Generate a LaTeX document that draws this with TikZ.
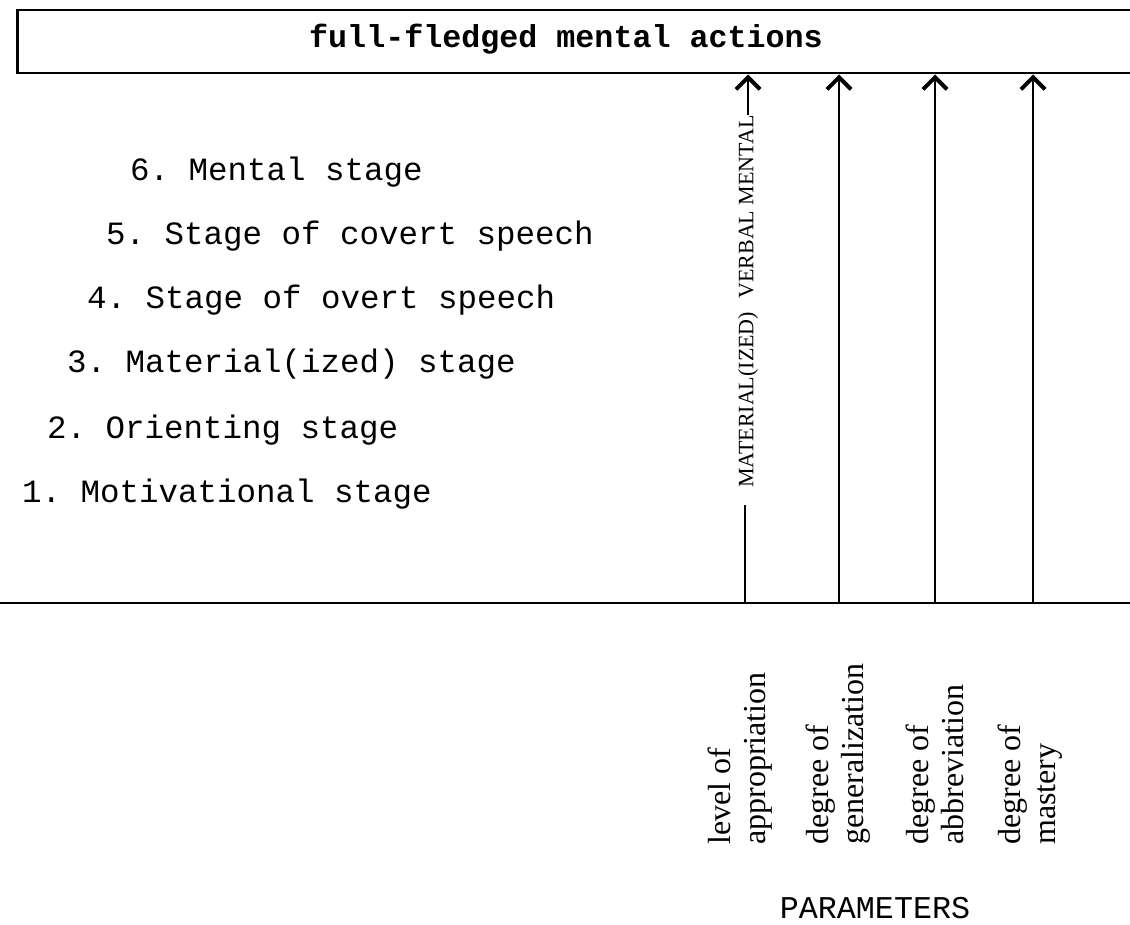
\documentclass[tikz,border=0pt]{standalone}
\usepackage{fontspec}
\setmainfont{Liberation Serif}
\setmonofont{Liberation Mono}
\usetikzlibrary{arrows.meta}
\begin{document}
\begin{tikzpicture}[x=1pt,y=-1pt,
  rule/.style={line width=2.8pt},
  shaft/.style={line width=2.6pt},
  arr/.style={line width=2.6pt,-{Straight Barb[length=12pt,width=24pt,line width=4pt]}},
  stage/.style={font=\fontsize{32.5}{36}\selectfont\ttfamily, anchor=base west, inner sep=0pt},
  param/.style={font=\fontsize{32}{35}\selectfont, rotate=90, anchor=west, align=left, inner sep=0pt},
]
\useasboundingbox (0,0) rectangle (1130,925);
% top box
\node[draw, line width=2.5pt, anchor=north west, minimum width=1160pt, minimum height=63pt, inner sep=0pt] (box) at (16,9) {};
\node[font=\fontsize{31.7}{36}\selectfont\ttfamily\bfseries, anchor=base, inner sep=0pt] (title) at (566,48) {full-fledged mental actions};
% stages
\node[stage] (s6) at (130,181) {6. Mental stage};
\node[stage] (s5) at (106,245) {5. Stage of covert speech};
\node[stage] (s4) at (87,309) {4. Stage of overt speech};
\node[stage] (s3) at (67,373) {3. Material(ized) stage};
\node[stage] (s2) at (47,438) {2. Orienting stage};
\node[stage] (s1) at (22,502) {1. Motivational stage};
% base line
\coordinate (hl) at (0,603);
\coordinate (hr) at (1130,603);
\draw[rule] (hl) -- (hr);
% columns
\coordinate (b1) at (745,603);
\coordinate (m0) at (745,505);
\coordinate (b2) at (839,603);
\coordinate (b3) at (935,603);
\coordinate (b4) at (1033,603);
\draw[shaft] (b1) -- (m0);
\node[font=\fontsize{22}{25}\selectfont, rotate=90, anchor=west, inner sep=0pt] (mat) at (748,488) {MATERIAL(IZED)\hspace{0.6em}VERBAL MENTAL};
\draw[arr] (mat.east) -- (mat.east |- box.south);
\draw[arr] (b2) -- (b2 |- box.south);
\draw[arr] (b3) -- (b3 |- box.south);
\draw[arr] (b4) -- (b4 |- box.south);
% parameter labels
\node[param] (p1) at (740,845) {level of\\appropriation};
\node[param] (p2) at (838,845) {degree of\\generalization};
\node[param] (p3) at (935,845) {degree of\\abbreviation};
\node[param] (p4) at (1030,845) {degree of\\mastery};
\node[font=\fontsize{31.7}{36}\selectfont\ttfamily, anchor=base, inner sep=0pt] (params) at (875,918) {PARAMETERS};
\end{tikzpicture}
\end{document}
